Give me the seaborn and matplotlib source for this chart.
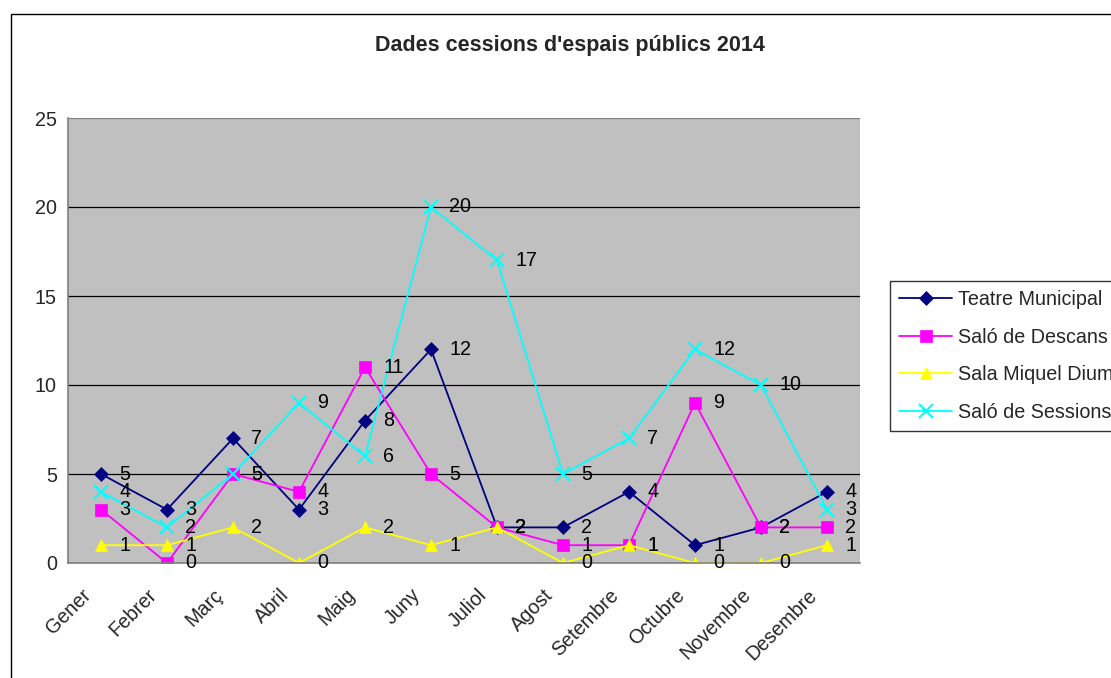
import pandas as pd
import numpy as np
import matplotlib
matplotlib.use("Agg")
import matplotlib.pyplot as plt
import seaborn as sns
from matplotlib.patches import Rectangle

# Data
months = ['Gener', 'Febrer', 'Març', 'Abril', 'Maig', 'Juny', 'Juliol',
          'Agost', 'Setembre', 'Octubre', 'Novembre', 'Desembre']
teatre_municipal = [5, 3, 7, 3, 8, 12, 2, 2, 4, 1, 2, 4]
salo_descans = [3, 0, 5, 4, 11, 5, 2, 1, 1, 9, 2, 2]
sala_miquel = [1, 1, 2, 0, 2, 1, 2, 0, 1, 0, 0, 1]
salo_sessions = [4, 2, 5, 9, 6, 20, 17, 5, 7, 12, 10, 3]

series_names = ['Teatre Municipal', 'Saló de Descans', 'Sala Miquel Diumé', 'Saló de Sessions']
series_values = [teatre_municipal, salo_descans, sala_miquel, salo_sessions]
colors = ['#000080', '#FF00FF', '#FFFF00', '#00FFFF']
markers = ['D', 's', '^', 'x']
marker_sizes = [7, 8, 9, 10]

sns.set_style("white")
plt.rcParams['font.family'] = ['Liberation Sans', 'DejaVu Sans']
FS = 14.2

rows = []
for name, vals in zip(series_names, series_values):
    for i, v in enumerate(vals):
        rows.append({'pos': i, 'month': months[i], 'value': v, 'serie': name})
df = pd.DataFrame(rows)

fig = plt.figure(figsize=(11.11, 6.78), dpi=100)
ax = fig.add_axes([68 / 1111, 1 - 563 / 678, (860 - 68) / 1111, (563 - 118) / 678])
ax.set_facecolor('#C0C0C0')

# outer chart border (cropped by the image edges)
fig.patches.append(Rectangle((11 / 1111, -0.1), 1.2, 1 - 14 / 678 + 0.1,
                             transform=fig.transFigure, fill=False,
                             edgecolor='black', linewidth=1.0))

for name, col, mk, ms in zip(series_names, colors, markers, marker_sizes):
    sub = df[df['serie'] == name]
    sns.lineplot(data=sub, x='pos', y='value', ax=ax, color=col, marker=mk,
                 markersize=ms, markeredgecolor=col,
                 markeredgewidth=1.5 if mk == 'x' else 0.5,
                 linewidth=1.3, label=name, legend=False)
    for x, y in zip(sub['pos'], sub['value']):
        ax.annotate(str(y), (x, y), xytext=(13, 0), textcoords='offset points',
                    ha='left', va='center', fontsize=FS, color='black')

ax.set_xlim(-0.5, 11.5)
ax.set_ylim(0, 25)
ax.set_yticks([0, 5, 10, 15, 20, 25])
ax.set_yticklabels(['0', '5', '10', '15', '20', '25'], fontsize=FS)
ax.set_xticks(range(12))
ax.set_xticklabels([''] * 12)
# rotated month labels, placed like the Excel category axis
for i, m in enumerate(months):
    ax.annotate(m, (i, 0), xycoords=ax.get_xaxis_transform(),
                xytext=(-9.5, -21), textcoords='offset points',
                ha='right', va='center', rotation=45, rotation_mode='anchor',
                fontsize=FS, annotation_clip=False)
ax.set_xticks(np.arange(-0.5, 12, 1), minor=True)
ax.tick_params(axis='x', which='major', length=0)
ax.tick_params(axis='x', which='minor', length=5, direction='out', color='#808080')
ax.tick_params(axis='y', length=5, direction='out', color='#808080', pad=3)
ax.yaxis.grid(True, color='black', linewidth=0.9)
ax.yaxis.get_gridlines()[-1].set_color('#808080')
ax.set_axisbelow(True)
ax.set_xlabel('')
ax.set_ylabel('')
for side in ['top', 'right']:
    ax.spines[side].set_visible(False)
for side in ['left', 'bottom']:
    ax.spines[side].set_color('#808080')
    ax.spines[side].set_linewidth(1.2)

fig.text(570 / 1111, 1 - 46 / 678, "Dades cessions d'espais públics 2014",
         ha='center', va='center', fontsize=15.5, fontweight='bold')

handles, labels = ax.get_legend_handles_labels()
leg = fig.legend(handles, labels, loc='upper left',
                 bbox_to_anchor=(890 / 1111, 1 - 281 / 678),
                 frameon=True, fancybox=False, fontsize=FS,
                 handlelength=2.7, labelspacing=0.95, borderpad=0.45,
                 handletextpad=0.3, borderaxespad=0)
leg.get_frame().set_edgecolor('black')
leg.get_frame().set_linewidth(1.0)

fig.savefig('out.png', dpi=100)
